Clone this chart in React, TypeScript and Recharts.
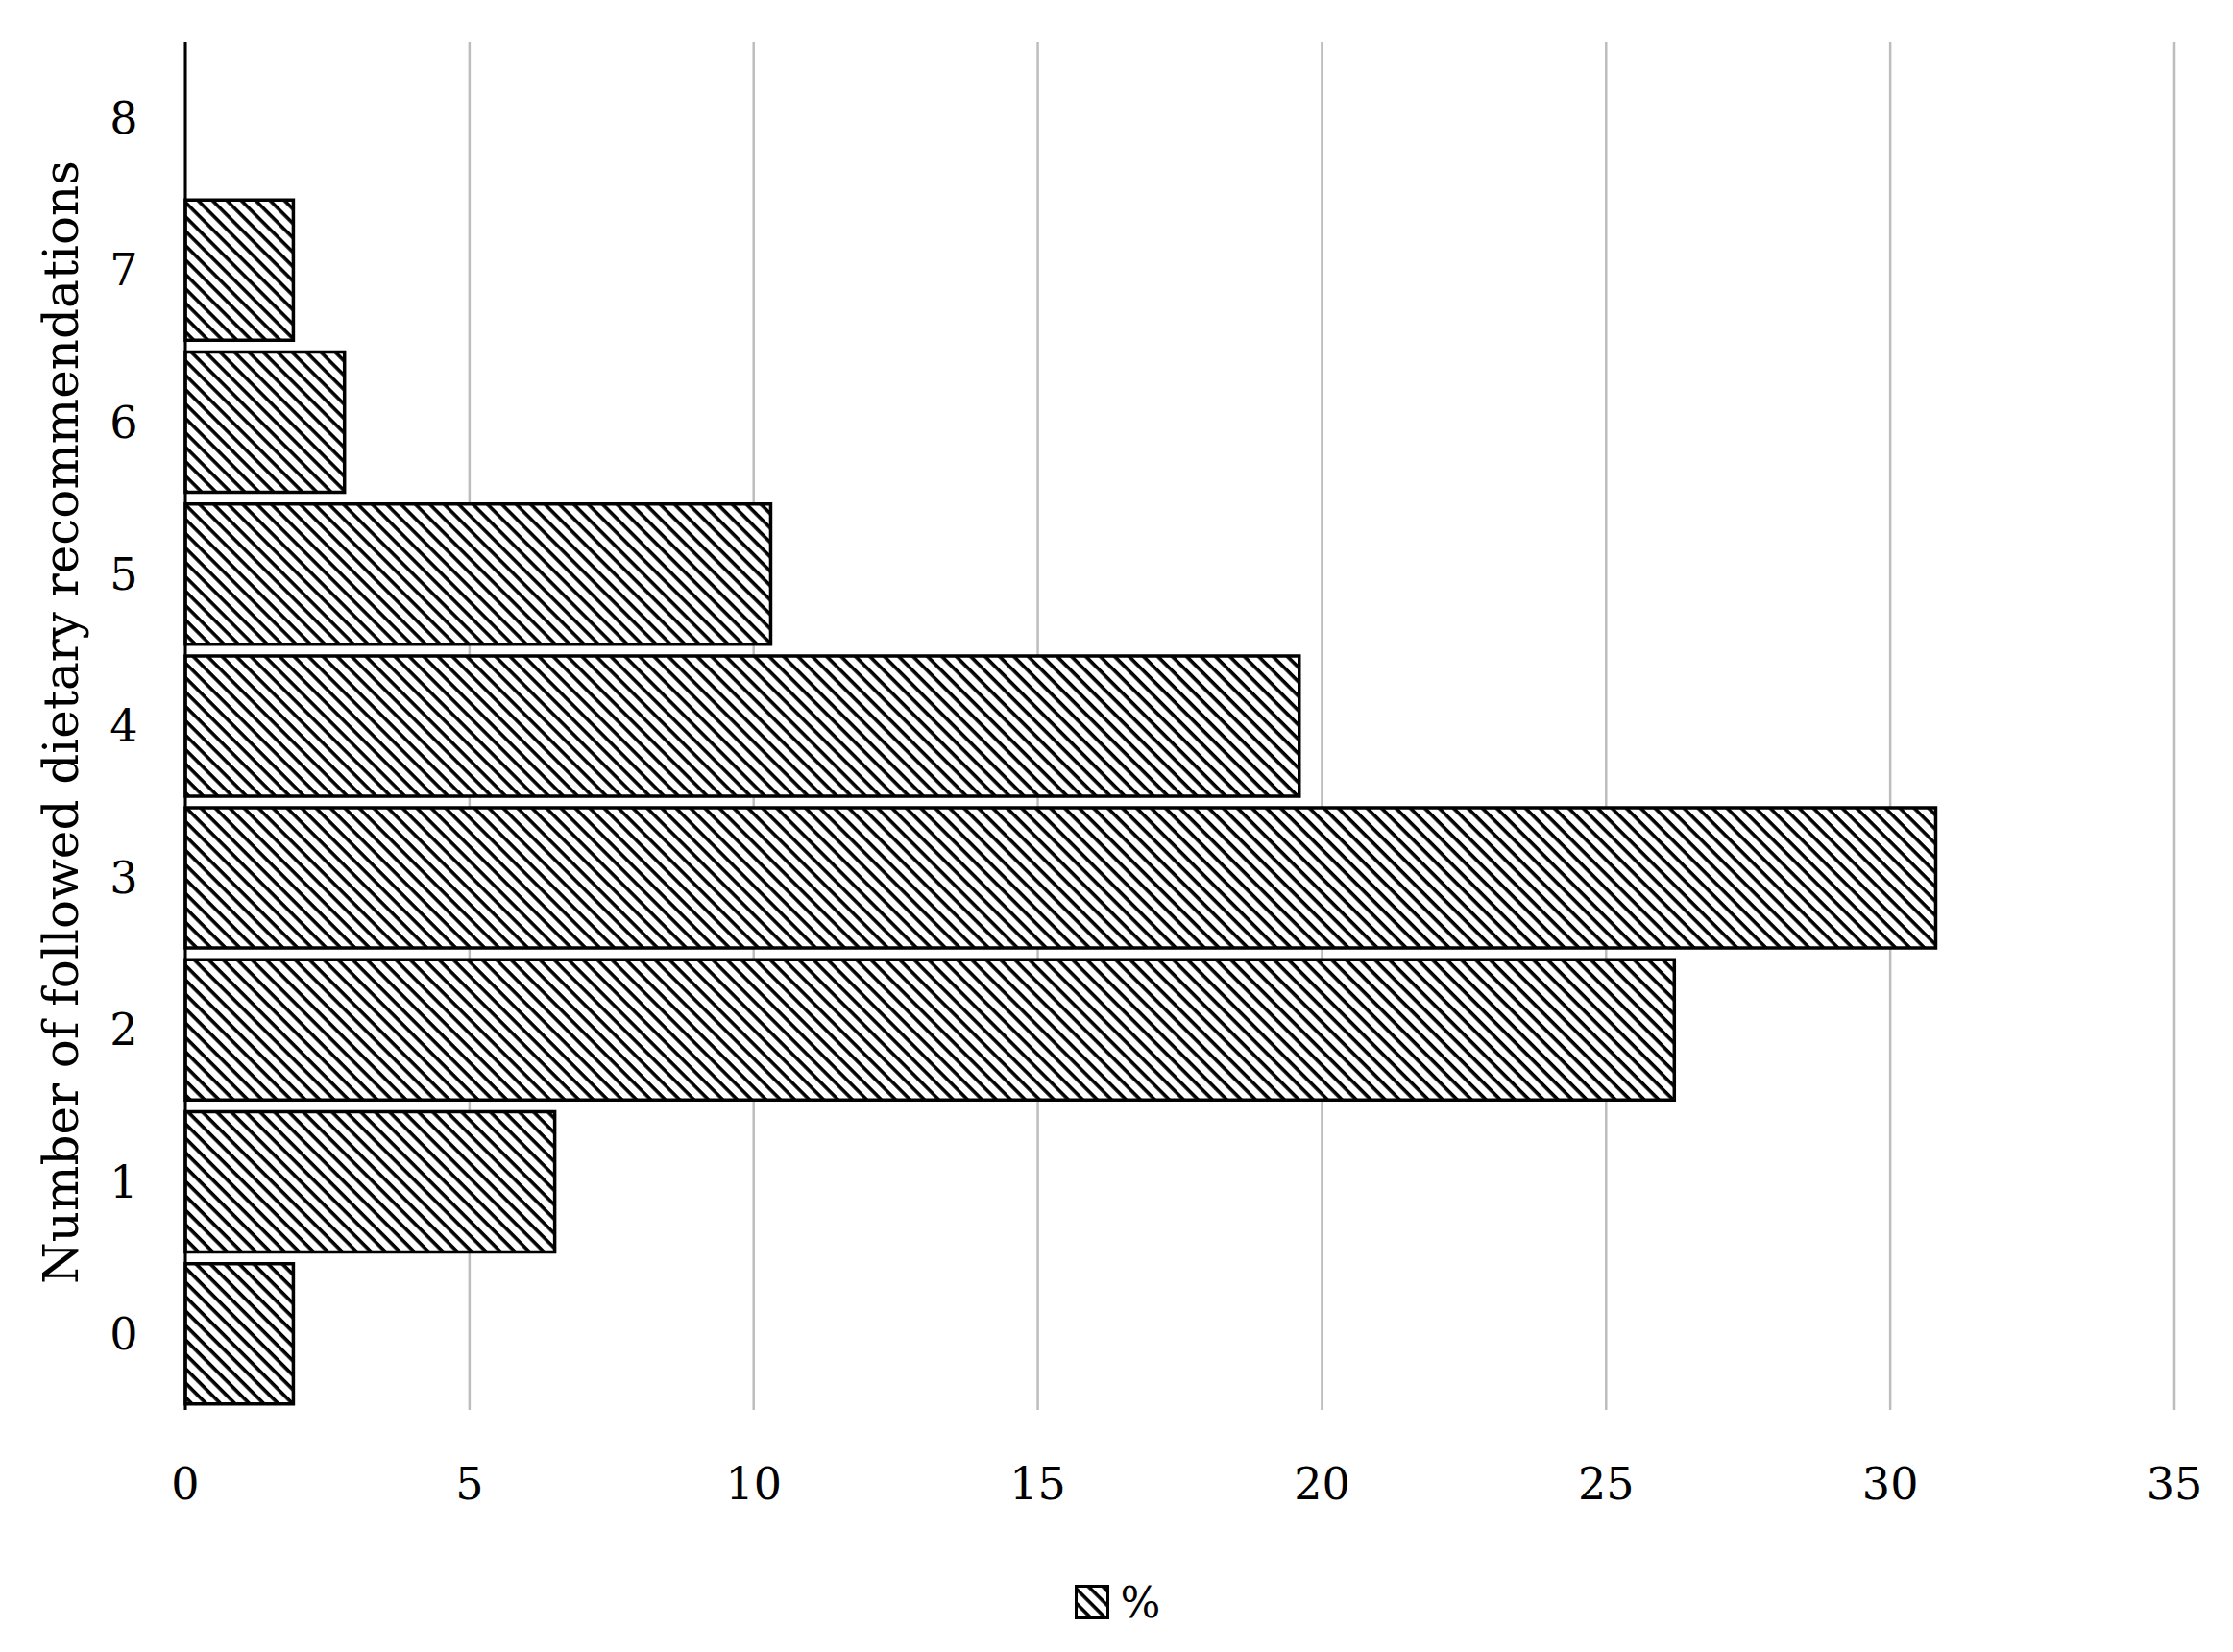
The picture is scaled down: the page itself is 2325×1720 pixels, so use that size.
import { BarChart, Bar, XAxis, YAxis, CartesianGrid, Legend } from "recharts";

// number of followed recommendations (0..8) and share of respondents in %
const categories = ["0", "1", "2", "3", "4", "5", "6", "7", "8"];
const percents = [1.9, 6.5, 26.2, 30.8, 19.6, 10.3, 2.8, 1.9, 0];
const xTicks = [0, 5, 10, 15, 20, 25, 30, 35];

const yTitle = "Number of followed dietary recommendations";
const seriesName = "%";

const FONT = "'DejaVu Serif', serif";

const data = categories.map((c, i) => ({ name: c, value: percents[i] }));

// Hatch fill: white background with black "\" stripes
function HatchDefs() {
  return (
    <defs>
      <pattern id="hatch" patternUnits="userSpaceOnUse" width="10.6" height="10.6" patternTransform="rotate(45)">
        <rect x="0" y="0" width="10.6" height="10.6" fill="#ffffff" />
        <rect x="0" y="0" width="10.6" height="3.6" fill="#000000" />
      </pattern>
    </defs>
  );
}

function XTick({ x, y, payload }: any) {
  return (
    <text x={x} y={y + 77} textAnchor="middle" dominantBaseline="central" fontFamily={FONT} fontSize={46} fill="#000">
      {payload.value}
    </text>
  );
}

function YTick({ y, payload }: any) {
  return (
    <text x={185 - 64} y={y} textAnchor="middle" dominantBaseline="central" fontFamily={FONT} fontSize={46} fill="#000">
      {payload.value}
    </text>
  );
}

function YTitle({ viewBox }: any) {
  const cy = viewBox.y + viewBox.height / 2 - 4;
  return (
    <text x={56} y={cy} transform={`rotate(-90, 56, ${cy})`} textAnchor="middle" dominantBaseline="central" fontFamily={FONT} fontSize={50} fill="#000">
      {yTitle}
    </text>
  );
}

function LegendBox() {
  return (
    <div style={{ height: 60, display: "flex", alignItems: "center", justifyContent: "center", fontFamily: FONT, fontSize: 44, paddingRight: 30 }}>
      <svg width={36} height={36} style={{ marginRight: 12 }}>
        <rect x={1.5} y={1.5} width={33} height={33} fill="url(#hatch)" stroke="#000" strokeWidth={3} />
      </svg>
      <span>{seriesName}</span>
    </div>
  );
}

export default function App() {
  return (
    <div style={{ width: 2309, height: 1700, background: "#fff" }}>
      <BarChart
        width={2309}
        height={1700}
        data={data}
        layout="vertical"
        margin={{ top: 36, right: 53, bottom: 10, left: 85 }}
        barCategoryGap={6}
      >
        <HatchDefs />
        <CartesianGrid horizontal={false} vertical={true} stroke="#bdbdbd" strokeWidth={2.5} />
        <XAxis
          type="number"
          domain={[0, 35]}
          ticks={xTicks}
          axisLine={false}
          tickLine={false}
          tickSize={0}
          tickMargin={0}
          height={170}
          tick={<XTick />}
          interval={0}
        />
        <YAxis
          type="category"
          dataKey="name"
          reversed
          width={100}
          axisLine={{ stroke: "#000", strokeWidth: 3 }}
          tickLine={false}
          tick={<YTick />}
          interval={0}
          label={<YTitle />}
        />
        <Legend verticalAlign="bottom" content={() => <LegendBox />} />
        <Bar dataKey="value" name={seriesName} fill="url(#hatch)" stroke="#000" strokeWidth={3.5} isAnimationActive={false} />
      </BarChart>
    </div>
  );
}
